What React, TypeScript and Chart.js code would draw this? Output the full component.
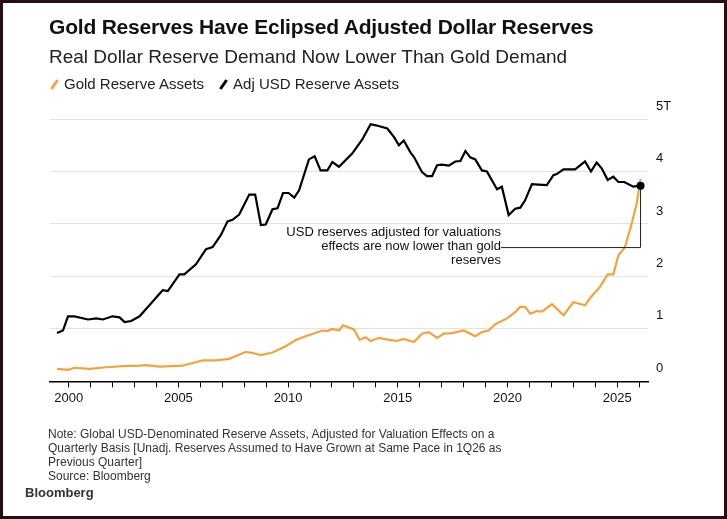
import React, { useEffect, useRef } from "react";
import { Chart, registerables } from "chart.js";
Chart.register(...registerables);

const usdYears = [1999.47,1999.74,1999.97,2000.27,2000.88,2001.26,2001.56,2002.0,2002.32,2002.55,2002.85,2003.23,2003.68,2004.14,2004.29,2004.52,2005.05,2005.27,2005.8,2006.26,2006.56,2006.94,2007.24,2007.47,2007.77,2008.23,2008.5,2008.76,2008.98,2009.29,2009.52,2009.77,2010.02,2010.28,2010.5,2010.95,2011.21,2011.48,2011.79,2012.02,2012.32,2012.92,2013.38,2013.76,2014.0,2014.52,2014.82,2015.05,2015.27,2015.58,2015.73,2016.1,2016.33,2016.56,2016.79,2017.01,2017.32,2017.62,2017.85,2018.08,2018.3,2018.53,2018.83,2019.06,2019.52,2019.74,2020.05,2020.35,2020.58,2020.8,2021.11,2021.41,2021.79,2022.09,2022.24,2022.55,2023.08,2023.53,2023.8,2024.06,2024.29,2024.56,2024.82,2025.05,2025.32,2025.73,2026.06];
const usdValues = [0.92,0.97,1.24,1.24,1.18,1.2,1.18,1.24,1.22,1.13,1.15,1.24,1.45,1.67,1.74,1.72,2.04,2.04,2.23,2.52,2.56,2.79,3.05,3.08,3.18,3.56,3.56,2.98,2.99,3.28,3.3,3.59,3.59,3.5,3.64,4.23,4.29,4.02,4.02,4.18,4.09,4.34,4.61,4.9,4.88,4.82,4.66,4.5,4.59,4.36,4.28,3.99,3.91,3.91,4.12,4.13,4.11,4.19,4.2,4.39,4.27,4.23,4.02,4.0,3.66,3.71,3.17,3.29,3.31,3.45,3.76,3.75,3.74,3.93,3.95,4.04,4.04,4.19,4.0,4.17,4.06,3.84,3.9,3.8,3.8,3.71,3.73];
const goldYears = [1999.47,1999.97,2000.27,2000.95,2001.71,2002.47,2003.23,2003.53,2004.14,2005.2,2005.65,2006.11,2006.71,2007.32,2008.05,2008.3,2008.76,2009.29,2009.89,2010.35,2010.8,2011.56,2011.79,2012.02,2012.32,2012.5,2013.0,2013.26,2013.53,2013.76,2014.14,2014.59,2014.97,2015.27,2015.73,2016.1,2016.41,2016.79,2017.09,2017.47,2018.0,2018.53,2018.83,2019.14,2019.44,2019.97,2020.35,2020.58,2020.8,2021.03,2021.33,2021.56,2022.02,2022.55,2023.0,2023.53,2023.8,2024.21,2024.56,2024.82,2025.05,2025.35,2025.65,2025.88,2026.06];
const goldValues = [0.24,0.22,0.26,0.24,0.27,0.29,0.3,0.31,0.28,0.3,0.35,0.4,0.4,0.43,0.56,0.55,0.5,0.55,0.67,0.79,0.86,0.97,0.96,1.0,0.97,1.07,0.99,0.79,0.84,0.77,0.83,0.79,0.77,0.81,0.75,0.91,0.94,0.83,0.91,0.92,0.97,0.86,0.94,0.97,1.09,1.2,1.32,1.42,1.42,1.29,1.34,1.33,1.47,1.26,1.51,1.45,1.61,1.8,2.04,2.04,2.4,2.56,3.0,3.38,3.86];
const yTickValues = [0, 1, 2, 3, 4, 5];
const annotationLines = ["USD reserves adjusted for valuations", "effects are now lower than gold", "reserves"];
const annotationAnchor = { x: 2019.7, y: 2.55 };

const FONT = "'Liberation Sans', Arial, sans-serif";
const GOLD = "#f0a43a";

export default function App() {
  const ref = useRef<HTMLCanvasElement>(null);
  useEffect(() => {
    document.body.style.margin = "0";
    const annot = {
      id: "annot",
      afterDatasetsDraw(chart: any) {
        const ctx = chart.ctx;
        const meta = chart.getDatasetMeta(1);
        const last = meta.data[meta.data.length - 1];
        const xs = chart.scales.x, ys = chart.scales.y;
        const ay = ys.getPixelForValue(annotationAnchor.y);
        const ax = xs.getPixelForValue(annotationAnchor.x);
        ctx.save();
        ctx.strokeStyle = "#222";
        ctx.lineWidth = 1;
        ctx.beginPath();
        ctx.moveTo(last.x, last.y);
        ctx.lineTo(last.x, ay);
        ctx.lineTo(ax, ay);
        ctx.stroke();
        ctx.fillStyle = "#111";
        ctx.font = `13px ${FONT}`;
        ctx.textAlign = "right";
        ctx.textBaseline = "middle";
        annotationLines.forEach((l, i) => ctx.fillText(l, ax, ay - 15 + i * 14));
        ctx.beginPath();
        ctx.fillStyle = "#000";
        ctx.arc(last.x, last.y, 4, 0, Math.PI * 2);
        ctx.fill();
        ctx.restore();
      },
    };
    const chart = new Chart(ref.current!, {
      type: "line",
      data: {
        datasets: [
          { data: goldYears.map((x, i) => ({ x, y: goldValues[i] })), borderColor: GOLD, borderWidth: 2.2, pointRadius: 0, tension: 0 },
          { data: usdYears.map((x, i) => ({ x, y: usdValues[i] })), borderColor: "#000", borderWidth: 2.2, pointRadius: 0, tension: 0 },
        ],
      },
      options: {
        animation: false,
        responsive: false,
        layout: { padding: { left: 47, top: 116, right: 0, bottom: 107 } },
        plugins: { legend: { display: false }, tooltip: { enabled: false } },
        scales: {
          x: {
            type: "linear", min: 1999.15, max: 2026.4,
            border: { color: "#000", width: 1.5 },
            grid: { drawOnChartArea: false, drawTicks: true, tickLength: 6, color: "#000" },
            afterBuildTicks: (s: any) => { s.ticks = []; for (let y = 2000; y <= 2026; y++) s.ticks.push({ value: y }); },
            ticks: { autoSkip: false, maxRotation: 0, color: "#111", font: { family: FONT, size: 13 }, callback: (v: any) => (v % 5 === 0 ? String(v) : "") },
          },
          y: {
            position: "right", min: 0, max: 5,
            border: { display: false },
            grid: { color: "#e2e2e2", drawTicks: false, lineWidth: 1 },
            afterBuildTicks: (s: any) => { s.ticks = yTickValues.map((v) => ({ value: v })); },
            afterFit: (s: any) => { s.width = 76; },
            ticks: { padding: 8, labelOffset: -13, color: "#111", font: { family: FONT, size: 13 }, callback: (v: any) => (v === 5 ? "5T" : String(v)) },
          },
        },
      },
      plugins: [annot],
    } as any);
    return () => chart.destroy();
  }, []);
  const legendMark = (c: string) => (
    <span style={{ display: "inline-block", width: 3, height: 11, background: c, transform: "rotate(35deg)", marginRight: 8, verticalAlign: "-1px" }} />
  );
  return (
    <div style={{ position: "relative", width: 727, height: 519, background: "#fff", fontFamily: FONT, overflow: "hidden", boxSizing: "border-box", border: "3px solid #2a0c14" }}>
      <canvas ref={ref} width={721} height={513} style={{ position: "absolute", left: 0, top: 0 }} />
      <div style={{ position: "absolute", left: 46, top: 12, fontSize: 21, fontWeight: 700, color: "#111", letterSpacing: -0.2 }}>Gold Reserves Have Eclipsed Adjusted Dollar Reserves</div>
      <div style={{ position: "absolute", left: 46, top: 43, fontSize: 19, color: "#222" }}>Real Dollar Reserve Demand Now Lower Than Gold Demand</div>
      <div style={{ position: "absolute", left: 50, top: 72, fontSize: 15, color: "#222" }}>
        {legendMark(GOLD)}Gold Reserve Assets<span style={{ display: "inline-block", width: 18 }} />{legendMark("#000")}Adj USD Reserve Assets
      </div>
      <div style={{ position: "absolute", left: 45, top: 424, fontSize: 12, color: "#333", lineHeight: "14px", width: 480 }}>
        Note: Global USD-Denominated Reserve Assets, Adjusted for Valuation Effects on a Quarterly Basis [Unadj. Reserves Assumed to Have Grown at Same Pace in 1Q26 as Previous Quarter]<br />Source: Bloomberg
      </div>
      <div style={{ position: "absolute", left: 22, top: 482, fontSize: 13, fontWeight: 600, color: "#333" }}>Bloomberg</div>
    </div>
  );
}
